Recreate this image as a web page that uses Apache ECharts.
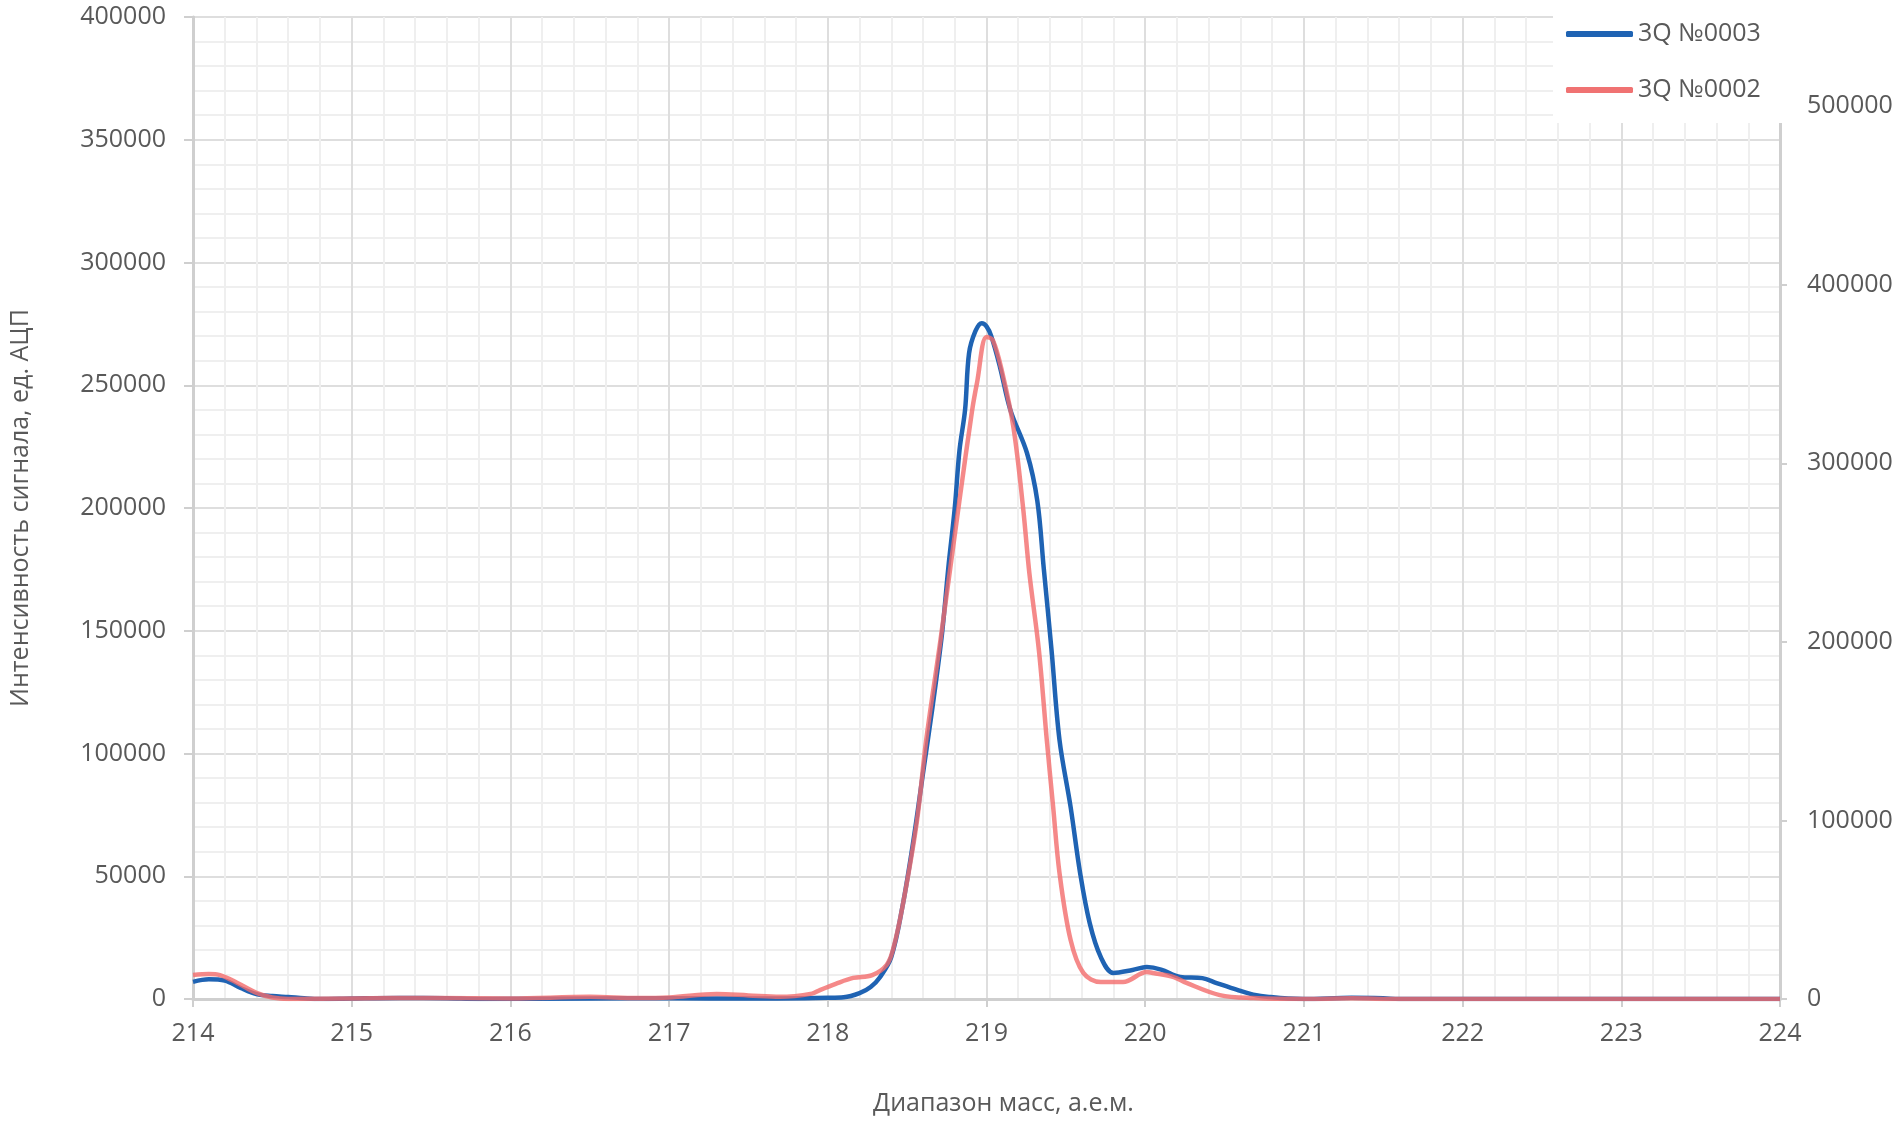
<!DOCTYPE html>
<html>
<head>
<meta charset="utf-8">
<script src="https://cdn.jsdelivr.net/npm/echarts@6/dist/echarts.min.js"></script>
<style>
html,body{margin:0;padding:0;background:#fff;}
#chart{width:1904px;height:1128px;}
</style>
</head>
<body>
<div id="chart"></div>
<script>
// Series 3Q №0003 (left axis)
const massBlue = [214.0,214.1,214.2,214.3,214.4,214.5,214.6,214.7,214.8,215.0,215.3,215.6,215.8,216.5,217.0,217.5,218.0,218.1,218.2,218.27,218.33,218.40,218.47,218.54,218.60,218.66,218.72,218.76,218.80,218.83,218.865,218.89,218.93,218.97,219.0,219.03,219.085,219.15,219.255,219.32,219.36,219.41,219.46,219.53,219.59,219.65,219.72,219.80,219.92,220.01,220.1,220.22,220.36,220.45,220.58,220.7,220.79,220.9,221.0,221.3,221.5,221.6,224.0];
const intensityBlue = [7000,8000,7500,4500,2000,1200,800,300,0,200,400,300,0,200,300,200,500,700,2400,4900,9000,17100,37500,64800,92000,119000,149000,176000,200000,223600,240000,263000,272000,275300,274000,270000,257400,240000,222400,203000,176000,142000,105500,78200,51300,31000,17100,10600,11800,13000,12000,9000,8500,6500,3700,1500,800,200,0,500,300,0,0];
// Series 3Q №0002 (right axis)
const massRed = [214.0,214.1,214.17,214.28,214.4,214.5,214.6,215.0,215.5,216.0,216.5,216.8,217.0,217.3,217.5,217.7,217.9,217.95,218.05,218.16,218.28,218.37,218.41,218.47,218.56,218.62,218.71,218.83,218.91,218.94,219.0,219.04,219.10,219.17,219.23,219.27,219.33,219.38,219.42,219.46,219.53,219.61,219.72,219.86,220.01,220.05,220.18,220.26,220.47,220.68,221.0,221.3,221.6,224.0];
const intensityRed = [13400,14000,13400,9000,3400,800,0,300,600,300,1200,500,800,2800,2000,1200,3000,5000,8500,11800,13400,19000,27400,51500,98600,145000,201000,279500,330000,345000,370800,369000,350600,320000,275600,238600,195500,145000,107500,70600,33000,14600,9500,9500,15100,14600,12300,9000,2200,500,0,400,0,0];
const seriesNames = ['3Q №0003','3Q №0002'];
const xTitle = 'Диапазон масс, а.е.м.';
const yTitle = 'Интенсивность сигнала, ед. АЦП';

const pairs = (xs, ys) => xs.map((x, i) => [x, ys[i]]);
const font = '"Open Sans", "Noto Sans", sans-serif';
const labelColor = '#595959';
const plain = v => String(v);

const chart = echarts.init(document.getElementById('chart'));
chart.setOption({
  animation: false,
  backgroundColor: '#ffffff',
  grid: {left: 193, right: 124, top: 17, bottom: 129, outerBoundsMode: 'none', containLabel: false},
  legend: {
    data: seriesNames,
    orient: 'vertical',
    left: 1553, top: 0,
    padding: [19, 36, 18, 13],
    itemGap: 26,
    itemWidth: 67, itemHeight: 6,
    icon: 'roundRect',
    backgroundColor: '#ffffff',
    z: 10,
    textStyle: {fontFamily: font, fontSize: 25, color: labelColor, lineHeight: 30}
  },
  xAxis: {
    type: 'value', min: 214, max: 224, interval: 1,
    name: xTitle, nameLocation: 'middle', nameGap: 92,
    nameTextStyle: {fontFamily: font, fontSize: 25, color: labelColor, padding: [0, 0, 0, 34]},
    axisLine: {show: true, onZero: false, lineStyle: {color: '#cfcfcf', width: 3}},
    axisTick: {show: true, length: 8, lineStyle: {color: '#cfcfcf', width: 2}},
    axisLabel: {fontFamily: font, fontSize: 25, color: labelColor, margin: 22, formatter: plain},
    splitLine: {show: true, lineStyle: {color: '#dedede', width: 2}},
    minorTick: {show: false, splitNumber: 5},
    minorSplitLine: {show: true, lineStyle: {color: '#efefef', width: 2}}
  },
  yAxis: [
    {
      type: 'value', min: 0, max: 400000, interval: 50000,
      name: yTitle, nameLocation: 'middle', nameGap: 160, nameRotate: 90,
      nameTextStyle: {fontFamily: font, fontSize: 25, color: labelColor},
      axisLine: {show: true, lineStyle: {color: '#cfcfcf', width: 3}},
      axisTick: {show: true, length: 9, lineStyle: {color: '#cfcfcf', width: 2}},
      axisLabel: {fontFamily: font, fontSize: 25, color: labelColor, margin: 27, formatter: plain},
      splitLine: {show: true, lineStyle: {color: '#dedede', width: 2}},
      minorTick: {show: false, splitNumber: 5},
      minorSplitLine: {show: true, lineStyle: {color: '#efefef', width: 2}}
    },
    {
      type: 'value', min: 0, max: 550000, interval: 100000,
      position: 'right',
      axisLine: {show: true, lineStyle: {color: '#cfcfcf', width: 3}},
      axisTick: {show: true, length: 7, lineStyle: {color: '#cfcfcf', width: 2}},
      axisLabel: {fontFamily: font, fontSize: 25, color: labelColor, margin: 27, showMaxLabel: false, formatter: plain},
      splitLine: {show: false}
    }
  ],
  series: [
    {
      name: seriesNames[0], type: 'line', yAxisIndex: 0,
      data: pairs(massBlue, intensityBlue),
      showSymbol: false, smooth: 0.35,
      itemStyle: {color: '#1f63b3'},
      lineStyle: {color: '#1f63b3', width: 4.5}
    },
    {
      name: seriesNames[1], type: 'line', yAxisIndex: 1,
      data: pairs(massRed, intensityRed),
      showSymbol: false, smooth: 0.35,
      itemStyle: {color: '#f07272'},
      lineStyle: {color: '#f26b6b', width: 4.5, opacity: 0.8}
    }
  ]
});
</script>
</body>
</html>
